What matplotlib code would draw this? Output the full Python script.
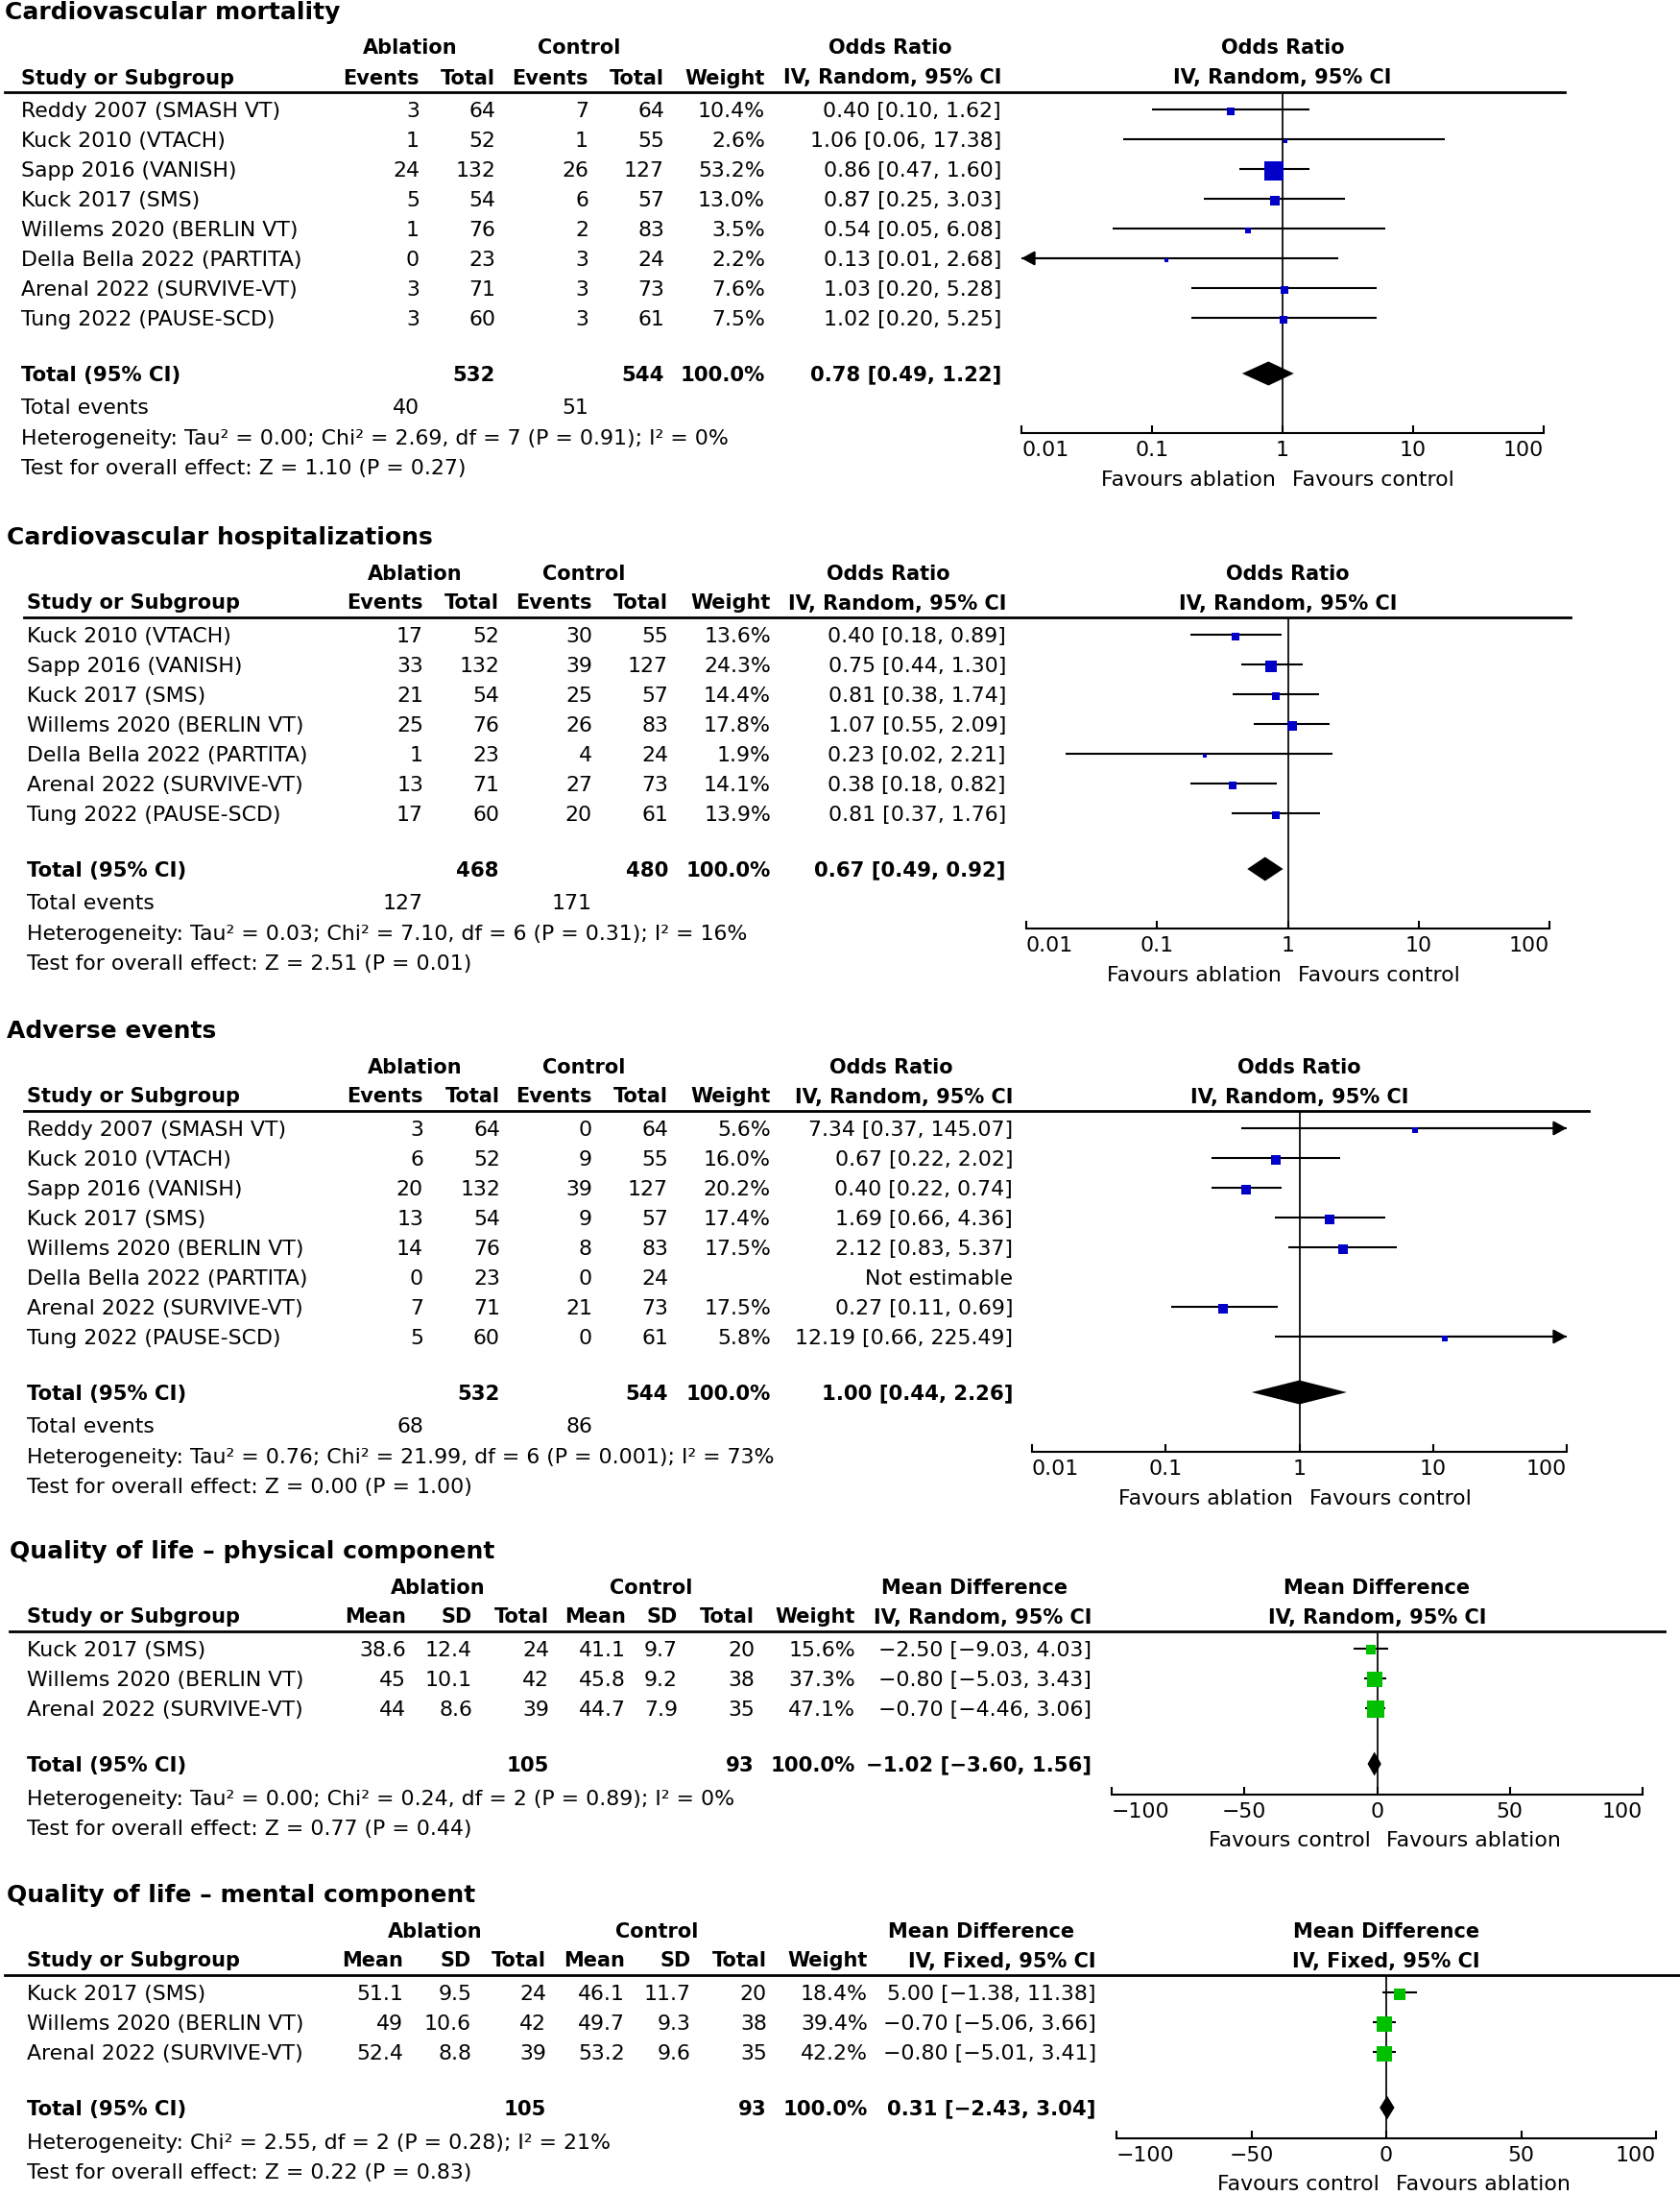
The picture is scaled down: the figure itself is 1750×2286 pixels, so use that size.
import numpy as np
import matplotlib
matplotlib.use('Agg')
import matplotlib.pyplot as plt
from matplotlib.ticker import FixedLocator, NullFormatter

plt.rcParams['font.family'] = ['DejaVu Sans']

# ---------------- data ----------------
# cardiovascular mortality
mort_study = ['Reddy 2007 (SMASH VT)', 'Kuck 2010 (VTACH)', 'Sapp 2016 (VANISH)', 'Kuck 2017 (SMS)',
              'Willems 2020 (BERLIN VT)', 'Della Bella 2022 (PARTITA)', 'Arenal 2022 (SURVIVE-VT)',
              'Tung 2022 (PAUSE-SCD)']
mort_abl_ev = [3, 1, 24, 5, 1, 0, 3, 3]
mort_abl_n = [64, 52, 132, 54, 76, 23, 71, 60]
mort_ctl_ev = [7, 1, 26, 6, 2, 3, 3, 3]
mort_ctl_n = [64, 55, 127, 57, 83, 24, 73, 61]
mort_weight = [10.4, 2.6, 53.2, 13.0, 3.5, 2.2, 7.6, 7.5]
mort_or = [0.40, 1.06, 0.86, 0.87, 0.54, 0.13, 1.03, 1.02]
mort_lo = [0.10, 0.06, 0.47, 0.25, 0.05, 0.01, 0.20, 0.20]
mort_hi = [1.62, 17.38, 1.60, 3.03, 6.08, 2.68, 5.28, 5.25]
mort_total = (0.78, 0.49, 1.22)

# cardiovascular hospitalizations
hosp_study = ['Kuck 2010 (VTACH)', 'Sapp 2016 (VANISH)', 'Kuck 2017 (SMS)', 'Willems 2020 (BERLIN VT)',
              'Della Bella 2022 (PARTITA)', 'Arenal 2022 (SURVIVE-VT)', 'Tung 2022 (PAUSE-SCD)']
hosp_abl_ev = [17, 33, 21, 25, 1, 13, 17]
hosp_abl_n = [52, 132, 54, 76, 23, 71, 60]
hosp_ctl_ev = [30, 39, 25, 26, 4, 27, 20]
hosp_ctl_n = [55, 127, 57, 83, 24, 73, 61]
hosp_weight = [13.6, 24.3, 14.4, 17.8, 1.9, 14.1, 13.9]
hosp_or = [0.40, 0.75, 0.81, 1.07, 0.23, 0.38, 0.81]
hosp_lo = [0.18, 0.44, 0.38, 0.55, 0.02, 0.18, 0.37]
hosp_hi = [0.89, 1.30, 1.74, 2.09, 2.21, 0.82, 1.76]
hosp_total = (0.67, 0.49, 0.92)

# adverse events (Della Bella not estimable)
adv_study = mort_study
adv_abl_ev = [3, 6, 20, 13, 14, 0, 7, 5]
adv_abl_n = [64, 52, 132, 54, 76, 23, 71, 60]
adv_ctl_ev = [0, 9, 39, 9, 8, 0, 21, 0]
adv_ctl_n = [64, 55, 127, 57, 83, 24, 73, 61]
adv_weight = [5.6, 16.0, 20.2, 17.4, 17.5, None, 17.5, 5.8]
adv_or = [7.34, 0.67, 0.40, 1.69, 2.12, None, 0.27, 12.19]
adv_lo = [0.37, 0.22, 0.22, 0.66, 0.83, None, 0.11, 0.66]
adv_hi = [145.07, 2.02, 0.74, 4.36, 5.37, None, 0.69, 225.49]
adv_total = (1.00, 0.44, 2.26)

# quality of life, physical component
qol_study = ['Kuck 2017 (SMS)', 'Willems 2020 (BERLIN VT)', 'Arenal 2022 (SURVIVE-VT)']
phys_abl_mean = [38.6, 45, 44]
phys_abl_sd = [12.4, 10.1, 8.6]
phys_abl_n = [24, 42, 39]
phys_ctl_mean = [41.1, 45.8, 44.7]
phys_ctl_sd = [9.7, 9.2, 7.9]
phys_ctl_n = [20, 38, 35]
phys_weight = [15.6, 37.3, 47.1]
phys_md = [-2.50, -0.80, -0.70]
phys_lo = [-9.03, -5.03, -4.46]
phys_hi = [4.03, 3.43, 3.06]
phys_total = (-1.02, -3.60, 1.56)

# quality of life, mental component
ment_abl_mean = [51.1, 49, 52.4]
ment_abl_sd = [9.5, 10.6, 8.8]
ment_abl_n = [24, 42, 39]
ment_ctl_mean = [46.1, 49.7, 53.2]
ment_ctl_sd = [11.7, 9.3, 9.6]
ment_ctl_n = [20, 38, 35]
ment_weight = [18.4, 39.4, 42.2]
ment_md = [5.00, -0.70, -0.80]
ment_lo = [-1.38, -5.06, -5.01]
ment_hi = [11.38, 3.66, 3.41]
ment_total = (0.31, -2.43, 3.04)

# ---------------- layout / style ----------------
W, H = 1750, 2286
FS = 15.8     # body text
HFS = 15      # bold column headers
BFS = 15.3    # bold total row
TFS = 18      # panel titles
PX = 100 / 72.  # pixels per point
LW = 1.25
BLUE = '#0000c8'
GREEN = '#00c000'

fig = plt.figure(figsize=(W / 100, H / 100), dpi=100)
bg = fig.add_axes([0, 0, 1, 1])
bg.set_xlim(0, W)
bg.set_ylim(H, 0)
bg.axis('off')


def txt(x, y, s, ha='right', bold=False, size=FS):
    # y is the visual centre of the text line
    bg.text(x, y + 0.36 * size * PX, s, ha=ha, va='baseline', fontsize=size,
            fontweight='bold' if bold else 'normal')


def ci_str(e, l, h):
    if e is None:
        return 'Not estimable'
    return f"{e:.2f} [{l:.2f}, {h:.2f}]".replace('-', '\u2212')


def w_str(w):
    return '' if w is None else f"{w:.1f}%"


def forest(title, line_y, studies, cols, col_x, col_names, groups, tot_cells, ev_cells,
           weight, est, lo, hi, total, het, test, log=True, ci_head='IV, Random, 95% CI',
           measure='Odds Ratio', plot_x=(1069, 1614), line_x=(25, 1636), title_x=7, study_x=28,
           color=BLUE, box_k=2.3, favours=('Favours ablation', 'Favours control')):
    n = len(studies)
    ys = [line_y + 18 + 31 * i for i in range(n)]
    total_y = ys[-1] + 58
    if log:
        het_y, test_y, axis_y, fav_y = total_y + 66, total_y + 97, total_y + 62, total_y + 109
    else:
        het_y, test_y, axis_y, fav_y = total_y + 35, total_y + 66, total_y + 32, total_y + 78

    txt(title_x, line_y - 85, title, ha='left', bold=True, size=TFS)
    for lab, cx in groups:
        bg.text(cx, line_y - 47 + 0.36 * HFS * PX, lab, ha='center', va='baseline',
                fontsize=HFS, fontweight='bold')
    txt(study_x, line_y - 16, 'Study or Subgroup', ha='left', bold=True, size=HFS)
    for name, x in zip(col_names, col_x):
        txt(x, line_y - 16, name, bold=True, size=HFS)
    bg.plot(line_x, [line_y, line_y], color='black', lw=2)

    for i, s in enumerate(studies):
        txt(study_x, ys[i], s, ha='left')
        for col, x in zip(cols, col_x):
            txt(x, ys[i], col[i])

    txt(study_x, total_y, 'Total (95% CI)', ha='left', bold=True, size=BFS)
    for c, x in zip(tot_cells, col_x):
        if c:
            txt(x, total_y, c, bold=True, size=BFS)
    if ev_cells is not None:
        txt(study_x, total_y + 34, 'Total events', ha='left')
        for c, x in zip(ev_cells, col_x):
            if c:
                txt(x, total_y + 34, c)
    txt(study_x, het_y, het, ha='left')
    txt(study_x, test_y, test, ha='left')

    # right-hand forest plot
    ref_px = (plot_x[0] + plot_x[1]) / 2
    bg.text(ref_px, line_y - 47 + 0.36 * HFS * PX, measure, ha='center', va='baseline',
            fontsize=HFS, fontweight='bold')
    bg.text(ref_px, line_y - 16 + 0.36 * HFS * PX, ci_head, ha='center', va='baseline',
            fontsize=HFS, fontweight='bold')

    ax = fig.add_axes([plot_x[0] / W, 1 - axis_y / H, (plot_x[1] - plot_x[0]) / W, (axis_y - line_y) / H])
    ax.set_ylim(axis_y, line_y)
    if log:
        ax.set_xscale('log')
        ax.set_xlim(0.01, 100)
        ticks = [0.01, 0.1, 1, 10, 100]
        labels = ['0.01', '0.1', '1', '10', '100']
        ref = 1
    else:
        ax.set_xlim(-100, 100)
        ticks = [-100, -50, 0, 50, 100]
        labels = ['\u2212100', '\u221250', '0', '50', '100']
        ref = 0
    ax.patch.set_visible(False)
    for sp in ['top', 'right', 'left']:
        ax.spines[sp].set_visible(False)
    ax.spines['bottom'].set_linewidth(1.5)
    ax.set_yticks([])
    ax.xaxis.set_major_locator(FixedLocator(ticks))
    tl = ax.set_xticklabels(labels, fontsize=FS)
    tl[0].set_ha('left')
    tl[-1].set_ha('right')
    ax.xaxis.set_minor_locator(FixedLocator([ticks[0], ticks[-1]]))
    ax.xaxis.set_minor_formatter(NullFormatter())
    ax.tick_params(axis='x', which='major', direction='in', length=6, width=1.5, pad=6)
    ax.tick_params(axis='x', which='minor', direction='inout', length=12, width=1.5)
    ax.axvline(ref, color='black', lw=LW, zorder=1)

    x0, x1 = ax.get_xlim()
    for i in range(n):
        if est[i] is None:
            continue
        y = ys[i]
        lc, hc = max(lo[i], x0), min(hi[i], x1)
        ax.plot([lc, hc], [y, y], color='black', lw=LW + 0.25, solid_capstyle='butt', zorder=2)
        arrow = dict(arrowstyle='-|>,head_length=0.55,head_width=0.3', color='black', lw=LW + 0.25,
                     shrinkA=0, shrinkB=0, mutation_scale=15)
        if lo[i] <= x0:
            ax.annotate('', xy=(x0, y), xytext=(est[i], y), arrowprops=arrow, annotation_clip=False)
        if hi[i] >= x1:
            ax.annotate('', xy=(x1, y), xytext=(est[i], y), arrowprops=arrow, annotation_clip=False)
        side = max(box_k * np.sqrt(weight[i]), 4)
        ax.plot(est[i], y + 1.5, marker='s', ms=side / PX, color=color, mew=0, zorder=3)

    te, tlo, thi = total
    ax.fill([tlo, te, thi, te], [total_y, total_y - 12.5, total_y, total_y + 12.5],
            color='black', lw=0, zorder=3)

    txt(ref_px - 7, fav_y, favours[0], ha='right')
    txt(ref_px + 10, fav_y, favours[1], ha='left')


or_names = ['Events', 'Total', 'Events', 'Total', 'Weight', 'IV, Random, 95% CI']
md_names = ['Mean', 'SD', 'Total', 'Mean', 'SD', 'Total', 'Weight']


def or_cols(a_ev, a_n, c_ev, c_n, w, e, l, h):
    return [[str(v) for v in a_ev], [str(v) for v in a_n], [str(v) for v in c_ev],
            [str(v) for v in c_n], [w_str(v) for v in w],
            [ci_str(e[i], l[i], h[i]) for i in range(len(e))]]


def md_cols(am, asd, an, cm, csd, cn, w, e, l, h):
    return [[f"{v:g}" for v in am], [f"{v:g}" for v in asd], [str(v) for v in an],
            [f"{v:g}" for v in cm], [f"{v:g}" for v in csd], [str(v) for v in cn],
            [w_str(v) for v in w], [ci_str(e[i], l[i], h[i]) for i in range(len(e))]]


# Cardiovascular mortality
forest('Cardiovascular mortality', 96, mort_study,
       or_cols(mort_abl_ev, mort_abl_n, mort_ctl_ev, mort_ctl_n, mort_weight, mort_or, mort_lo, mort_hi),
       [437, 516, 613, 692, 797, 1043], or_names,
       [('Ablation', 427), ('Control', 603), ('Odds Ratio', 927)],
       ['', str(sum(mort_abl_n)), '', str(sum(mort_ctl_n)), '100.0%', ci_str(*mort_total)],
       [str(sum(mort_abl_ev)), '', str(sum(mort_ctl_ev)), '', '', ''],
       mort_weight, mort_or, mort_lo, mort_hi, mort_total,
       'Heterogeneity: Tau\u00b2 = 0.00; Chi\u00b2 = 2.69, df = 7 (P = 0.91); I\u00b2 = 0%',
       'Test for overall effect: Z = 1.10 (P = 0.27)',
       plot_x=(1064, 1608), line_x=(5, 1630), title_x=5, study_x=22, box_k=2.7)

# Cardiovascular hospitalizations
forest('Cardiovascular hospitalizations', 643, hosp_study,
       or_cols(hosp_abl_ev, hosp_abl_n, hosp_ctl_ev, hosp_ctl_n, hosp_weight, hosp_or, hosp_lo, hosp_hi),
       [441, 520, 617, 696, 803, 1048], or_names,
       [('Ablation', 432), ('Control', 608), ('Odds Ratio', 925)],
       ['', str(sum(hosp_abl_n)), '', str(sum(hosp_ctl_n)), '100.0%', ci_str(*hosp_total)],
       [str(sum(hosp_abl_ev)), '', str(sum(hosp_ctl_ev)), '', '', ''],
       hosp_weight, hosp_or, hosp_lo, hosp_hi, hosp_total,
       'Heterogeneity: Tau\u00b2 = 0.03; Chi\u00b2 = 7.10, df = 6 (P = 0.31); I\u00b2 = 16%',
       'Test for overall effect: Z = 2.51 (P = 0.01)',
       plot_x=(1069, 1614), line_x=(25, 1636), box_k=2.3)

# Adverse events
forest('Adverse events', 1157, adv_study,
       or_cols(adv_abl_ev, adv_abl_n, adv_ctl_ev, adv_ctl_n, adv_weight, adv_or, adv_lo, adv_hi),
       [441, 521, 617, 696, 803, 1055], or_names,
       [('Ablation', 432), ('Control', 608), ('Odds Ratio', 928)],
       ['', str(sum(adv_abl_n)), '', str(sum(adv_ctl_n)), '100.0%', ci_str(*adv_total)],
       [str(sum(adv_abl_ev)), '', str(sum(adv_ctl_ev)), '', '', ''],
       adv_weight, adv_or, adv_lo, adv_hi, adv_total,
       'Heterogeneity: Tau\u00b2 = 0.76; Chi\u00b2 = 21.99, df = 6 (P = 0.001); I\u00b2 = 73%',
       'Test for overall effect: Z = 0.00 (P = 1.00)',
       plot_x=(1075, 1632), line_x=(25, 1655), box_k=2.3)

# Quality of life - physical
forest('Quality of life \u2013 physical component', 1699, qol_study,
       md_cols(phys_abl_mean, phys_abl_sd, phys_abl_n, phys_ctl_mean, phys_ctl_sd, phys_ctl_n,
               phys_weight, phys_md, phys_lo, phys_hi),
       [423, 492, 572, 652, 706, 786, 891, 1137], md_names + ['IV, Random, 95% CI'],
       [('Ablation', 456), ('Control', 678), ('Mean Difference', 1015)],
       ['', '', str(sum(phys_abl_n)), '', '', str(sum(phys_ctl_n)), '100.0%', ci_str(*phys_total)],
       None, phys_weight, phys_md, phys_lo, phys_hi, phys_total,
       'Heterogeneity: Tau\u00b2 = 0.00; Chi\u00b2 = 0.24, df = 2 (P = 0.89); I\u00b2 = 0%',
       'Test for overall effect: Z = 0.77 (P = 0.44)',
       log=False, measure='Mean Difference', plot_x=(1158, 1711), line_x=(10, 1734),
       title_x=10, color=GREEN, box_k=2.6, favours=('Favours control', 'Favours ablation'))

# Quality of life - mental
forest('Quality of life \u2013 mental component', 2057, qol_study,
       md_cols(ment_abl_mean, ment_abl_sd, ment_abl_n, ment_ctl_mean, ment_ctl_sd, ment_ctl_n,
               ment_weight, ment_md, ment_lo, ment_hi),
       [420, 491, 569, 651, 720, 799, 904, 1142], md_names + ['IV, Fixed, 95% CI'],
       [('Ablation', 453), ('Control', 684), ('Mean Difference', 1022)],
       ['', '', str(sum(ment_abl_n)), '', '', str(sum(ment_ctl_n)), '100.0%', ci_str(*ment_total)],
       None, ment_weight, ment_md, ment_lo, ment_hi, ment_total,
       'Heterogeneity: Chi\u00b2 = 2.55, df = 2 (P = 0.28); I\u00b2 = 21%',
       'Test for overall effect: Z = 0.22 (P = 0.83)',
       log=False, measure='Mean Difference', ci_head='IV, Fixed, 95% CI', plot_x=(1163, 1725),
       line_x=(5, 1750), color=GREEN, box_k=2.6, favours=('Favours control', 'Favours ablation'))

fig.savefig('out.png', dpi=100)
